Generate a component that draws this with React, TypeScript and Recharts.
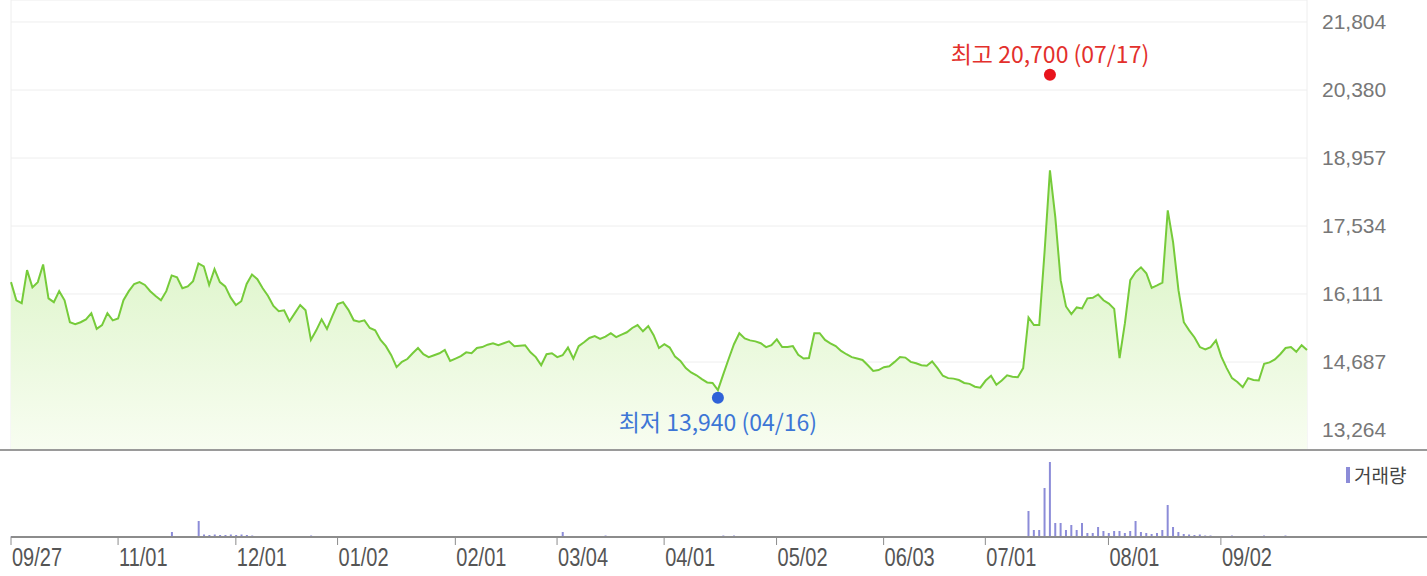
import React from 'react';
import {
  ComposedChart,
  Area,
  Bar,
  XAxis,
  YAxis,
  CartesianGrid,
  ReferenceDot,
  Legend,
} from 'recharts';

// one entry per trading day, 09/27 .. 09/26
const closes = [
  16360, 15980, 15920, 16610, 16250, 16360, 16730, 16020, 15940, 16170,
  15980, 15520, 15480, 15520, 15580, 15710, 15380, 15460, 15710, 15560,
  15600, 15980, 16170, 16320, 16360, 16300, 16170, 16070, 15980, 16170,
  16500, 16460, 16230, 16270, 16380, 16750, 16690, 16300, 16630, 16360,
  16270, 16040, 15880, 15960, 16320, 16520, 16420, 16230, 16070, 15860,
  15750, 15770, 15540, 15710, 15880, 15770, 15150, 15350, 15580, 15380,
  15650, 15900, 15940, 15780, 15560, 15530, 15560, 15400, 15350, 15150,
  15020, 14830, 14580, 14690, 14750, 14870, 14980, 14850, 14790, 14830,
  14870, 14940, 14710, 14760, 14810, 14890, 14870, 14980, 15000, 15050,
  15080, 15040, 15080, 15120, 15020, 15030, 15040, 14890, 14790, 14620,
  14850, 14870, 14790, 14830, 14990, 14760, 15020, 15100, 15190, 15230,
  15170, 15220, 15290, 15210, 15260, 15310, 15400, 15460, 15330, 15440,
  15250, 14980, 15060, 14990, 14800, 14710, 14560, 14470, 14410, 14330,
  14260, 14250, 14100, 14430, 14750, 15060, 15290, 15180, 15140, 15120,
  15080, 15000, 15040, 15160, 15000, 15000, 15020, 14840, 14760, 14770,
  15290, 15290, 15150, 15080, 15020, 14920, 14850, 14790, 14760, 14730,
  14620, 14500, 14520, 14580, 14600, 14690, 14790, 14780, 14690, 14660,
  14620, 14610, 14700, 14560, 14400, 14350, 14340, 14310, 14250, 14230,
  14170, 14150, 14300, 14400, 14210, 14300, 14410, 14380, 14370, 14560,
  15620, 15460, 15460, 17000, 18700, 17720, 16400, 15850, 15690, 15830,
  15810, 16020, 16030, 16100, 15980, 15910, 15800, 14770, 15500, 16400,
  16570, 16670, 16545, 16240, 16290, 16350, 17860, 17190, 16190, 15520,
  15350, 15200, 15000, 14950, 15000, 15140, 14800, 14560, 14350, 14270,
  14160, 14350, 14310, 14300, 14650, 14680, 14740, 14850, 14980, 15000,
  14900, 15040, 14940,
];

// volume, thousand shares
const volumes = [
  20, 20, 20, 20, 20, 20, 20, 20, 20, 20,
  20, 20, 20, 20, 20, 20, 20, 20, 20, 20,
  20, 20, 20, 20, 20, 20, 20, 20, 20, 20,
  200, 30, 30, 30, 40, 640, 100, 80, 100, 80,
  80, 100, 80, 100, 80, 60, 40, 20, 20, 20,
  20, 20, 20, 20, 20, 20, 60, 20, 20, 20,
  20, 20, 20, 20, 20, 20, 20, 20, 20, 20,
  20, 20, 20, 20, 20, 20, 20, 20, 20, 20,
  20, 20, 20, 20, 20, 20, 20, 20, 20, 20,
  20, 20, 20, 20, 20, 20, 20, 20, 20, 20,
  20, 20, 20, 200, 20, 20, 20, 20, 20, 20,
  20, 60, 20, 20, 20, 20, 20, 20, 20, 20,
  20, 20, 20, 20, 20, 20, 20, 20, 20, 20,
  20, 20, 40, 60, 40, 60, 20, 20, 20, 20,
  20, 20, 20, 20, 20, 20, 20, 20, 20, 20,
  40, 30, 20, 20, 20, 20, 20, 20, 20, 20,
  20, 20, 20, 20, 20, 20, 20, 20, 20, 20,
  20, 20, 20, 20, 20, 20, 20, 20, 20, 20,
  20, 20, 40, 30, 20, 20, 30, 30, 20, 40,
  1040, 280, 280, 1960, 3000, 560, 560, 280, 480, 280,
  560, 160, 160, 400, 240, 160, 240, 240, 160, 240,
  640, 200, 160, 120, 160, 280, 1280, 400, 200, 120,
  100, 80, 100, 60, 60, 40, 40, 40, 60, 30,
  30, 30, 20, 20, 60, 20, 20, 20, 60, 20,
  20, 20, 20,
];

const tickIndex = [0, 20, 42, 61, 83, 102, 122, 143, 163, 182, 205, 226];
const tickLabels = ['09/27', '11/01', '12/01', '01/02', '02/01', '03/04', '04/01', '05/02', '06/03', '07/01', '08/01', '09/02'];
const priceTicks = [13264, 14687, 16111, 17534, 18957, 20380, 21804];

const highIndex = 194;
const highValue = 20700;
const highLabel = '최고 20,700 (07/17)';
const lowIndex = 132;
const lowValue = 13940;
const lowLabel = '최저 13,940 (04/16)';

const rows = closes.map((close, i) => ({ i, close, volume: volumes[i] }));

const krFont = "'Noto Sans CJK KR', 'Noto Sans', sans-serif";
const numFont = "'Liberation Sans', Arial, sans-serif";

// labels in the original are a tall, condensed face
const DateTick = (props: any) => {
  const { x, y, payload } = props;
  return (
    <text
      x={0}
      y={0}
      dy={19}
      fill="#555"
      fontSize={25}
      fontFamily={numFont}
      transform={`translate(${x + 1} ${y}) scale(0.8 1)`}
    >
      {tickLabels[tickIndex.indexOf(payload.value)]}
    </text>
  );
};

const volumeLegend = () => (
  <div style={{ display: 'flex', alignItems: 'center', fontFamily: krFont, fontSize: 19, color: '#444' }}>
    <span style={{ display: 'inline-block', width: 4, height: 16, background: '#8c8cd8', marginRight: 4 }} />
    <span>거래량</span>
  </div>
);

export default function App() {
  return (
    <div style={{ position: 'absolute', left: 0, top: 0, width: 1427, height: 576, background: '#fff' }}>
      <ComposedChart width={1427} height={449} data={rows} margin={{ top: 0, right: 0, bottom: 0, left: 11 }}>
        <defs>
          <linearGradient id="priceFill" x1="0" y1="0" x2="0" y2="1">
            <stop offset="0%" stopColor="#d3f2bb" />
            <stop offset="100%" stopColor="#f8fdf1" />
          </linearGradient>
        </defs>
        <CartesianGrid stroke="#eeeeee" />
        <XAxis
          dataKey="i"
          type="number"
          domain={[0, 242]}
          ticks={tickIndex}
          height={0}
          tick={false}
          axisLine={false}
          tickLine={false}
        />
        <YAxis
          orientation="right"
          width={120}
          domain={[12867, 22264]}
          ticks={priceTicks}
          allowDataOverflow
          axisLine={false}
          tickLine={false}
          tickSize={6}
          tickMargin={9}
          tickFormatter={(v: number) => v.toLocaleString('en-US')}
          tick={{ fill: '#777', fontSize: 21, fontFamily: numFont }}
        />
        <Area
          type="linear"
          dataKey="close"
          stroke="#76cb3a"
          strokeWidth={2}
          fill="url(#priceFill)"
          fillOpacity={1}
          dot={false}
          activeDot={false}
          isAnimationActive={false}
        />
        <ReferenceDot
          x={highIndex}
          y={highValue}
          r={6}
          fill="#e8141c"
          stroke="none"
          label={{ value: highLabel, position: 'top', fill: '#e3302c', fontSize: 23, fontFamily: krFont, offset: 6 }}
        />
        <ReferenceDot
          x={lowIndex}
          y={lowValue}
          r={6}
          fill="#2f62d8"
          stroke="none"
          label={{ value: lowLabel, position: 'bottom', fill: '#3d76d6', fontSize: 23, fontFamily: krFont, offset: 11 }}
        />
      </ComposedChart>
      <div style={{ height: 2, background: '#9a9a9a' }} />
      <ComposedChart width={1427} height={125} data={rows} margin={{ top: 0, right: 0, bottom: 0, left: 11 }}>
        <XAxis
          dataKey="i"
          type="number"
          domain={[0, 264.5]}
          ticks={tickIndex}
          interval={0}
          height={39}
          axisLine={{ stroke: '#8c8c8c', strokeWidth: 2 }}
          tickLine={{ stroke: '#8c8c8c' }}
          tickSize={8}
          tickMargin={2}
          tick={<DateTick />}
        />
        <YAxis hide domain={[0, 3440]} />
        <Bar dataKey="volume" fill="#8c8cd8" barSize={2} isAnimationActive={false} />
        <Legend
          layout="horizontal"
          verticalAlign="middle"
          align="center"
          wrapperStyle={{ top: 10, left: 1346, width: 80 }}
          content={volumeLegend}
        />
      </ComposedChart>
    </div>
  );
}
